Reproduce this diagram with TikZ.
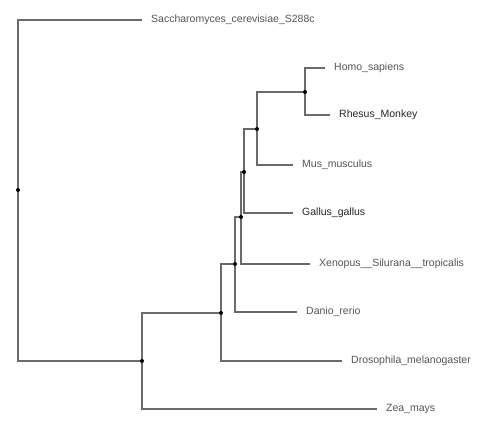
\documentclass[tikz,border=0pt]{standalone}
\usepackage{fontspec}
\setmainfont{Liberation Sans}
\usepackage{xcolor}
\definecolor{branchgray}{HTML}{6A6A6A}
\definecolor{labelgray}{HTML}{555555}
\tikzset{
  branch/.style={line width=1.1pt, color=branchgray},
  taxon/.style={anchor=west, inner xsep=9pt, inner ysep=0pt, text=labelgray,
    font=\fontsize{10.5}{12}\selectfont, text height=7.5pt, text depth=2pt},
  strong/.style={text=black!85}
}

\begin{document}
\begin{tikzpicture}[x=1pt, y=-1pt]
\fill[white] (0,0) rectangle (489,432);
\useasboundingbox (0,0) rectangle (489,432);
% internal nodes
\coordinate (root) at (18,190);
\coordinate (nZea) at (142,361);
\coordinate (nDro) at (221,313);
\coordinate (nDan) at (235,264);
\coordinate (nXen) at (241,217);
\coordinate (nGal) at (244,172);
\coordinate (nMus) at (257,129);
\coordinate (nHom) at (305,92);
% leaves
\node[taxon] (sacc) at (142,20) {Saccharomyces\_cerevisiae\_S288c};
\node[taxon] (homo) at (325,68) {Homo\_sapiens};
\node[taxon, strong] (rhesus) at (330,115) {Rhesus\_Monkey};
\node[taxon] (mus) at (293,165) {Mus\_musculus};
\node[taxon, strong] (gallus) at (293,213) {Gallus\_gallus};
\node[taxon] (xeno) at (310,264) {Xenopus\_\_Silurana\_\_tropicalis};
\node[taxon] (danio) at (297,312) {Danio\_rerio};
\node[taxon] (droso) at (342,361) {Drosophila\_melanogaster};
\node[taxon] (zea) at (377,409) {Zea\_mays};
% branches
\draw[branch] (root) |- (sacc.west);
\draw[branch] (root) |- (nZea);
\draw[branch] (nZea) |- (nDro);
\draw[branch] (nZea) |- (zea.west);
\draw[branch] (nDro) |- (nDan);
\draw[branch] (nDro) |- (droso.west);
\draw[branch] (nDan) |- (nXen);
\draw[branch] (nDan) |- (danio.west);
\draw[branch] (nXen) |- (nGal);
\draw[branch] (nXen) |- (xeno.west);
\draw[branch] (nGal) |- (nMus);
\draw[branch] (nGal) |- (gallus.west);
\draw[branch] (nMus) |- (nHom);
\draw[branch] (nMus) |- (mus.west);
\draw[branch] (nHom) |- (homo.west);
\draw[branch] (nHom) |- (rhesus.west);
\foreach \n in {root,nZea,nDro,nDan,nXen,nGal,nMus,nHom}
  \fill[black] (\n) circle (2pt);
\end{tikzpicture}
\end{document}
